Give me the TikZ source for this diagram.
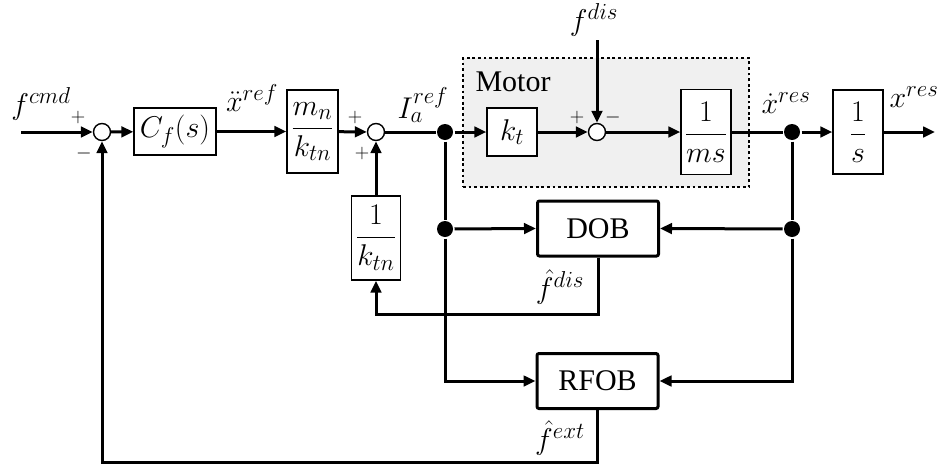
\RequirePackage{fix-cm}
\documentclass[tikz,border=0pt]{standalone}
\usepackage{amsmath}
\usepackage[no-math]{fontspec}
\setmainfont{Liberation Serif}
\DeclareMathSizes{30}{30}{23}{18}
\usetikzlibrary{arrows.meta}
\begin{document}
\begin{tikzpicture}[x=1pt,y=-1pt,
  font=\fontsize{30}{34}\selectfont,
  line width=3pt,
  >={Triangle[length=12pt,width=10.5pt]},
  blk/.style={draw,line width=1.3pt,inner sep=0pt,fill=white},
  obs/.style={draw,line width=3pt,rounded corners=2pt,inner sep=0pt,minimum width=121pt,minimum height=55pt,fill=white},
  sumc/.style={draw,circle,line width=1.4pt,minimum size=17pt,inner sep=0pt,fill=white},
  jdot/.style={circle,fill,inner sep=0pt,minimum size=16pt},
  lbl/.style={inner sep=0pt},
  sgn/.style={inner sep=0pt,font=\fontsize{20}{22}\selectfont}]
\useasboundingbox (0,0) rectangle (947,469);

% motor frame
\node[draw,dash pattern=on 2.8pt off 2.8pt,line width=2.8pt,fill=gray!12,
      minimum width=286pt,minimum height=129pt,inner sep=0pt] (motor) at (606,122.5) {};
\node[lbl] (motorlbl) at (513,82) {Motor};

% blocks
\node[sumc] (s1) at (102,132) {};
\node[blk,minimum width=82pt,minimum height=47pt] (cf) at (175,131.5) {$C_f(s)$};
\node[blk,minimum width=51pt,minimum height=83pt] (mk) at (312.5,131.5) {$\dfrac{m_n}{k_{tn}}$};
\node[sumc] (s2) at (376,132) {};
\node[jdot] (d1) at (445,132) {};
\node[blk,minimum width=50pt,minimum height=48pt] (kt) at (512,132) {$k_t$};
\node[sumc] (s3) at (597,132) {};
\node[blk,minimum width=50pt,minimum height=85pt] (ms) at (706,132) {$\dfrac{1}{ms}$};
\node[jdot] (d2) at (792,132) {};
\node[blk,minimum width=50pt,minimum height=84pt] (os) at (858,132) {$\dfrac{1}{s}$};
\node[blk,minimum width=49pt,minimum height=84pt] (ik) at (376,238) {$\dfrac{1}{k_{tn}}$};
\node[obs] (dob) at (598,228.5) {DOB};
\node[obs] (rfob) at (597.5,381) {RFOB};
\node[jdot] (d3) at (445,229) {};
\node[jdot] (d4) at (792,229) {};

\coordinate (in) at (21,132);
\coordinate (out) at (935,132);
\coordinate (fd) at (597,40);
\coordinate (r1) at (0,314);
\coordinate (r2) at (0,462);

% connectors
\draw[->] (in) -- (s1);
\draw[->] (s1) -- (cf);
\draw[->] (cf) -- (mk);
\draw[->] (mk) -- (s2);
\draw (s2) -- (d1);
\draw[->] (d1) -- (kt);
\draw[->] (kt) -- (s3);
\draw[->] (s3) -- (ms);
\draw (ms) -- (d2);
\draw[->] (d2) -- (os);
\draw[->] (os) -- (out);
\draw[->] (fd) -- (s3);
\draw[->] (ik) -- (s2);
\draw (d1) -- (d3);
\draw[->] (d3) -- (dob.west);
\draw[->] (d3) |- (rfob.west);
\draw (d2) -- (d4);
\draw[->] (d4) -- (dob.east);
\draw[->] (d4) |- (rfob.east);
\draw[->] (dob.south) |- (ik.south |- r1) -- (ik.south);
\draw[->] (rfob.south) |- (s1.south |- r2) -- (s1.south);

% signal labels
\node[lbl] (lcmd) at (41,104) {$f^{cmd}$};
\node[lbl] (lxref) at (252,98) {$\ddot{x}^{ref}$};
\node[lbl] (liref) at (423,105) {$I_a^{ref}$};
\node[lbl] (lfdis) at (594,20) {$f^{dis}$};
\node[lbl] (lxdres) at (786,103) {$\dot{x}^{res}$};
\node[lbl] (lxres) at (914,97) {$x^{res}$};
\node[lbl] (lhdis) at (560,287) {$\hat{f}^{dis}$};
\node[lbl] (lhext) at (560,438) {$\hat{f}^{ext}$};

% signs
\node[sgn] (p1) at (78,117) {$+$};
\node[sgn] (m1) at (84,153) {$-$};
\node[sgn] (p2) at (355,117) {$+$};
\node[sgn] (p3) at (362,153) {$+$};
\node[sgn] (p4) at (577,117) {$+$};
\node[sgn] (m4) at (613,117) {$-$};
\end{tikzpicture}
\end{document}
